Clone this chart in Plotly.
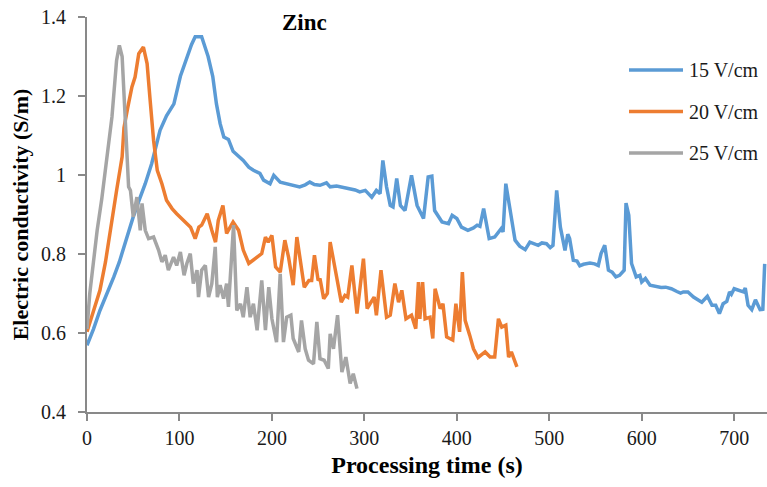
import plotly.graph_objects as go

# 15 V/cm (blue)
t15 = [0, 7, 14, 22, 29, 35, 40, 45, 50, 57, 63, 70, 79, 86, 94, 101, 108, 113, 117, 124,
       131, 136, 140, 144, 148, 153, 158, 163, 169, 175, 180, 187, 191, 198, 202, 209, 216, 223, 230, 236,
       241, 246, 252, 259, 263, 270, 278, 285, 290, 295, 301, 308, 313, 317, 320, 324, 328, 331, 335, 339,
       344, 351, 357, 364, 369, 373, 376, 384, 391, 395, 400, 405, 412, 418, 422, 425, 429, 435, 441, 448,
       450, 453, 458, 463, 468, 474, 479, 488, 492, 497, 501, 504, 508, 512, 517, 520, 522, 526, 530, 533,
       537, 544, 549, 553, 556, 560, 564, 568, 572, 576, 581, 583, 586, 589, 594, 598, 600, 604, 609, 616,
       621, 626, 632, 638, 642, 645, 650, 656, 661, 665, 671, 676, 680, 684, 688, 692, 695, 697, 700, 704,
       710, 712, 715, 719, 723, 728, 731, 733]
v15 = [0.569, 0.61, 0.657, 0.70, 0.742, 0.78, 0.818, 0.86, 0.894, 0.94, 0.978, 1.029, 1.113, 1.15, 1.18, 1.25, 1.30, 1.33, 1.35, 1.35,
       1.30, 1.25, 1.18, 1.13, 1.096, 1.09, 1.06, 1.05, 1.037, 1.02, 1.012, 1.004, 0.987, 0.978, 0.999, 0.982, 0.978, 0.975, 0.97, 0.975,
       0.982, 0.976, 0.974, 0.98, 0.97, 0.972, 0.968, 0.966, 0.962, 0.957, 0.961, 0.944, 0.961, 0.953, 1.037, 0.97, 0.923, 0.919, 0.991, 0.923,
       0.91, 0.999, 0.923, 0.89, 0.995, 0.997, 0.91, 0.881, 0.877, 0.898, 0.89, 0.868, 0.86, 0.866, 0.873, 0.87, 0.915, 0.839, 0.843, 0.864,
       0.856, 0.978, 0.902, 0.835, 0.82, 0.811, 0.83, 0.822, 0.828, 0.826, 0.816, 0.822, 0.961, 0.868, 0.809, 0.85, 0.839, 0.784, 0.782, 0.77,
       0.774, 0.777, 0.775, 0.771, 0.801, 0.822, 0.759, 0.754, 0.742, 0.746, 0.759, 0.929, 0.898, 0.776, 0.742, 0.746, 0.729, 0.738, 0.721, 0.717,
       0.715, 0.716, 0.712, 0.705, 0.701, 0.704, 0.704, 0.691, 0.683, 0.678, 0.693, 0.67, 0.67, 0.649, 0.674, 0.68, 0.704, 0.698, 0.712, 0.708,
       0.704, 0.714, 0.67, 0.659, 0.684, 0.659, 0.66, 0.775]

# 20 V/cm (orange)
t20 = [0, 7, 14, 20, 25, 32, 38, 40, 44, 48.6, 52, 56, 61, 65, 68, 72, 76, 81, 86, 92,
       97, 104, 112, 117, 121, 124, 130, 135, 139, 142, 147, 151, 158, 164, 169, 175, 184, 189, 193, 196,
       200, 204, 209, 214, 218, 223, 227, 231, 235, 240, 243, 246, 250, 252, 256, 260, 263, 268, 275, 279,
       282, 286.5, 292, 299, 303, 310.6, 313, 318, 324, 328, 333, 337, 340.5, 345, 351, 355.6, 358.5, 360, 363, 365.7,
       371, 374, 376.5, 382, 385, 389, 395.6, 399, 403, 406, 409, 414, 418, 423, 430.6, 436, 441, 445, 448.6, 453,
       456, 459, 465]
v20 = [0.603, 0.655, 0.708, 0.78, 0.86, 0.961, 1.046, 1.12, 1.17, 1.223, 1.248, 1.307, 1.324, 1.282, 1.197, 1.088, 1.012, 0.978, 0.936, 0.915,
       0.902, 0.885, 0.868, 0.839, 0.868, 0.873, 0.902, 0.86, 0.83, 0.885, 0.923, 0.852, 0.881, 0.86, 0.81, 0.776, 0.792, 0.801, 0.843, 0.83,
       0.847, 0.767, 0.754, 0.835, 0.792, 0.721, 0.843, 0.784, 0.716, 0.733, 0.733, 0.797, 0.733, 0.738, 0.687, 0.70, 0.83, 0.767, 0.678, 0.695,
       0.691, 0.771, 0.649, 0.788, 0.662, 0.691, 0.645, 0.759, 0.64, 0.645, 0.725, 0.678, 0.708, 0.636, 0.645, 0.611, 0.729, 0.636, 0.729, 0.636,
       0.64, 0.586, 0.712, 0.662, 0.674, 0.59, 0.582, 0.674, 0.603, 0.754, 0.632, 0.594, 0.56, 0.538, 0.552, 0.539, 0.539, 0.636, 0.615, 0.62,
       0.539, 0.552, 0.514]

# 25 V/cm (gray)
t25 = [0, 3, 7, 11, 16, 20, 24, 27, 32, 35, 38, 41.4, 45, 47, 50, 54, 57.6, 59.5, 63, 66.6,
       72, 77.4, 81, 84.6, 88, 93.6, 97, 101, 105, 108, 111.7, 115, 119, 120.6, 124, 128, 131.5, 135, 138.7, 141,
       144, 147.7, 151, 153, 158.5, 162, 166, 169, 173, 176.5, 180, 184, 189, 193, 196.6, 200, 205, 209, 212.5, 216,
       220.5, 223, 229, 232, 236, 239.6, 245, 248.6, 252, 256.5, 261, 263, 266.6, 271, 275.7, 280, 284.6, 288, 292]
v25 = [0.61, 0.70, 0.78, 0.86, 0.94, 1.012, 1.08, 1.147, 1.29, 1.328, 1.30, 1.13, 0.97, 0.961, 0.894, 0.944, 0.86, 0.928, 0.86, 0.839,
       0.843, 0.81, 0.78, 0.797, 0.759, 0.792, 0.771, 0.805, 0.746, 0.776, 0.801, 0.725, 0.759, 0.691, 0.759, 0.771, 0.691, 0.725, 0.818, 0.691,
       0.721, 0.687, 0.725, 0.666, 0.873, 0.657, 0.674, 0.64, 0.716, 0.64, 0.674, 0.607, 0.733, 0.607, 0.716, 0.636, 0.577, 0.75, 0.577, 0.64,
       0.645, 0.586, 0.552, 0.632, 0.56, 0.531, 0.522, 0.628, 0.535, 0.531, 0.51, 0.598, 0.56, 0.645, 0.501, 0.539, 0.472, 0.497, 0.459]

series_names = ["15 V/cm", "20 V/cm", "25 V/cm"]
colors = ["#5B9BD5", "#ED7D31", "#A5A5A5"]

x_ticks = [0, 100, 200, 300, 400, 500, 600, 700]
y_ticks = [0.4, 0.6, 0.8, 1.0, 1.2, 1.4]
y_ticklabels = ["0.4", "0.6", "0.8", "1", "1.2", "1.4"]

FONT = "Liberation Serif, Times New Roman, serif"
W, H = 767, 487
ML, MR, MT, MB = 87, 0, 17, 75
PW, PH = W - ML - MR, H - MT - MB

fig = go.Figure()
for (tx, vy), name, col in zip([(t15, v15), (t20, v20), (t25, v25)], series_names, colors):
    fig.add_trace(go.Scatter(x=tx, y=vy, mode="lines", name=name, showlegend=False,
                             line=dict(color=col, width=3.5)))

# manual legend (line sample + label), positions in paper coordinates
shapes, annotations = [], []
leg_x0, leg_x1, leg_tx = (629 - ML) / PW, (683 - ML) / PW, (687 - ML) / PW
for i, (name, col) in enumerate(zip(series_names, colors)):
    ypix = 70 + i * 41.5
    yp = (H - MB - ypix) / PH
    shapes.append(dict(type="line", xref="paper", yref="paper", x0=leg_x0, x1=leg_x1, y0=yp, y1=yp,
                       line=dict(color=col, width=3.5)))
    annotations.append(dict(text=name, xref="paper", yref="paper", x=leg_tx, y=yp, xanchor="left",
                            yanchor="middle", showarrow=False,
                            font=dict(family=FONT, size=20, color="#1a1a1a")))

annotations.append(dict(text="<b>Zinc</b>", x=(304 - ML) / PW, y=(H - MB - 23) / PH, xref="paper", yref="paper",
                        xanchor="center", yanchor="middle", showarrow=False,
                        font=dict(family=FONT, size=23, color="#000")))

fig.update_layout(
    width=W, height=H,
    margin=dict(l=ML, r=MR, t=MT, b=MB, autoexpand=False),
    paper_bgcolor="white", plot_bgcolor="white",
    font=dict(family=FONT, size=20, color="#1a1a1a"),
    shapes=shapes, annotations=annotations,
    xaxis=dict(range=[0, 735.5], tickvals=x_ticks,
               showline=True, linecolor="#898989", linewidth=2, showgrid=False, zeroline=False,
               ticks="outside", ticklen=7, tickcolor="#898989", tickwidth=1.5,
               tickfont=dict(family=FONT, size=20, color="#1a1a1a"),
               title=dict(text="<b>Processing time (s)</b>", font=dict(family=FONT, size=24, color="#000"), standoff=8)),
    yaxis=dict(range=[0.4, 1.4], tickvals=y_ticks, ticktext=y_ticklabels,
               showline=True, linecolor="#898989", linewidth=2, showgrid=False, zeroline=False,
               ticks="outside", ticklen=7, tickcolor="#898989", tickwidth=1.5, ticklabelstandoff=8,
               tickfont=dict(family=FONT, size=20, color="#1a1a1a"),
               title=dict(text="<b>Electric conductivity (S/m)</b>", font=dict(family=FONT, size=22, color="#000"), standoff=6)),
)

fig.write_html("out.html", config={"displayModeBar": False},
               post_script="document.body.style.margin='0px';")
